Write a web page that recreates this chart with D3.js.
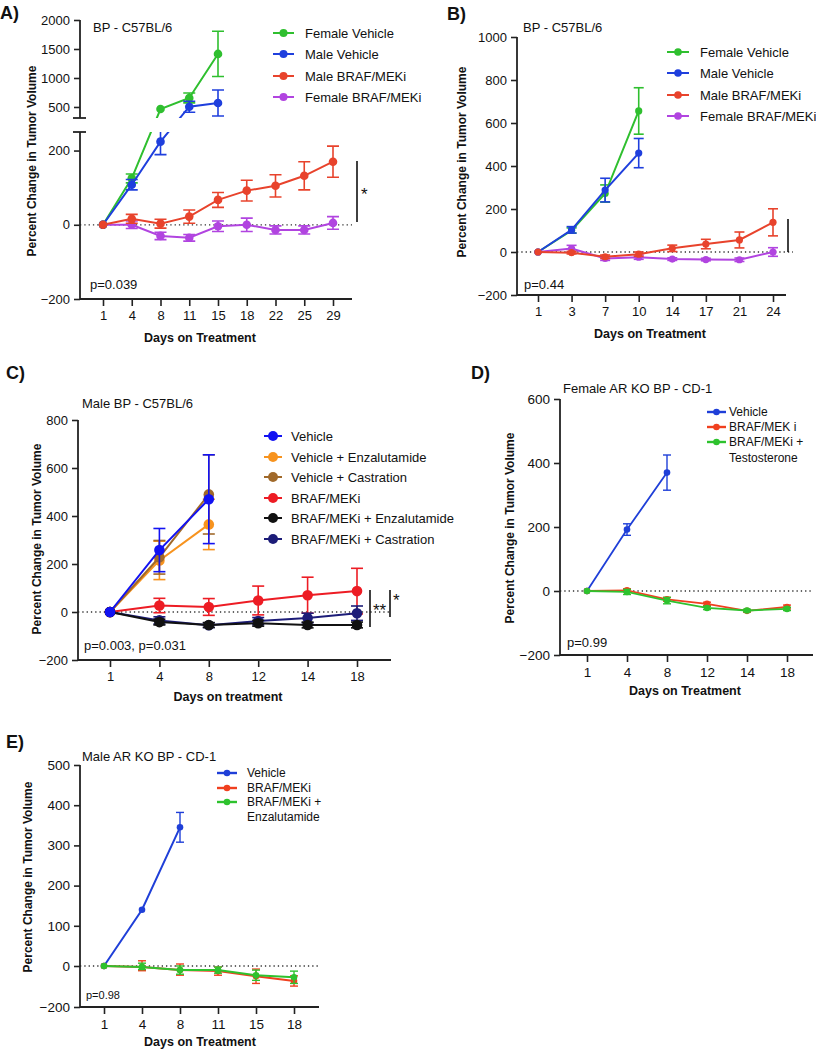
<!DOCTYPE html>
<html><head><meta charset="utf-8">
<script src="https://cdn.jsdelivr.net/npm/d3@7"></script>
<style>body{margin:0;background:#fff}svg{display:block}text{font-family:"Liberation Sans",Arial,sans-serif;fill:#111}</style>
</head><body><svg id="c" width="816" height="1050"></svg>
<script>
// ---------- Panel A ----------
const daysA = [1,4,8,11,15,18,22,25,29];
const namesA = ["Female Vehicle","Male Vehicle","Male BRAF/MEKi","Female BRAF/MEKi"];
const aFemaleVehicle = [0,125,465,655,1415];
const aFemaleVehicleErr = [0,12,0,85,390];
const aMaleVehicle = [0,108,224,505,569];
const aMaleVehicleErr = [0,14,35,95,225];
const aMaleBraf = [0,16,3,22,67,92,105,132,170];
const aMaleBrafErr = [0,12,12,18,20,28,30,38,42];
const aFemaleBraf = [0,0,-30,-35,-4,0,-14,-14,5];
const aFemaleBrafErr = [0,10,10,9,14,18,11,11,17];
const yTicksA = [-200,0,200,500,1000,1500,2000];

// ---------- Panel B ----------
const daysB = [1,3,7,10,14,17,21,24];
const namesB = ["Female Vehicle","Male Vehicle","Male BRAF/MEKi","Female BRAF/MEKi"];
const bFemaleVehicle = [0,100,272,656];
const bFemaleVehicleErr = [0,12,40,108];
const bMaleVehicle = [0,103,288,460];
const bMaleVehicleErr = [0,15,55,68];
const bMaleBraf = [0,-3,-22,-10,17,37,56,138];
const bMaleBrafErr = [0,6,8,10,15,22,37,63];
const bFemaleBraf = [0,16,-30,-24,-33,-35,-36,0];
const bFemaleBrafErr = [0,15,9,10,6,6,8,20];
const yTicksB = [-200,0,200,400,600,800,1000];

// ---------- Panel C ----------
const daysC = [1,4,8,12,14,18];
const namesC = ["Vehicle","Vehicle + Enzalutamide","Vehicle + Castration","BRAF/MEKi","BRAF/MEKi + Enzalutamide","BRAF/MEKi + Castration"];
const cVehicle = [0,258,470];
const cVehicleErr = [0,90,185];
const cVehEnza = [0,215,365];
const cVehEnzaErr = [0,80,105];
const cVehCast = [0,228,490];
const cVehCastErr = [0,70,165];
const cBraf = [0,27,21,48,70,87];
const cBrafErr = [0,30,35,60,75,95];
const cBrafEnza = [0,-42,-54,-47,-54,-54];
const cBrafEnzaErr = [0,12,10,12,12,12];
const cBrafCast = [0,-35,-55,-38,-25,-5];
const cBrafCastErr = [0,15,10,15,20,30];
const yTicksC = [-200,0,200,400,600,800];

// ---------- Panel D ----------
const daysD = [1,4,8,12,14,18];
const namesD = ["Vehicle","BRAF/MEK i","BRAF/MEKi +"];
const dVehicle = [0,192,370];
const dVehicleErr = [0,18,55];
const dBraf = [0,2,-26,-40,-62,-50];
const dBrafErr = [0,5,6,5,4,6];
const dBrafTesto = [0,-3,-30,-53,-61,-56];
const dBrafTestoErr = [0,8,10,5,4,5];
const yTicksD = [-200,0,200,400,600];

// ---------- Panel E ----------
const daysE = [1,4,8,11,15,18];
const namesE = ["Vehicle","BRAF/MEKi","BRAF/MEKi +"];
const eVehicle = [0,140,345];
const eVehicleErr = [0,0,37];
const eBraf = [0,-5,-20,-25,-50,-73];
const eBrafErr = [0,18,25,20,35,25];
const eBrafEnza = [0,-5,-20,-20,-45,-55];
const eBrafEnzaErr = [0,12,20,15,25,30];
const yTicksE = [-200,0,100,200,300,400,500];

const svg = d3.select("#c");
let clipId = 0;

function drawPanel(p) {
  const g = svg.append("g");
  const x = d3.scalePoint().domain(p.days).range([p.x0 + p.padL, p.x1 - p.padR]);
  const y = d3.scaleLinear().domain(p.yDom).range(p.yRng);
  const yBase = y(p.yDom[0]);

  // zero line
  g.append("line").attr("x1", p.x0).attr("x2", p.zeroEnd || p.x1)
    .attr("y1", y(0)).attr("y2", y(0))
    .attr("stroke", "#333").attr("stroke-width", 1.3).attr("stroke-dasharray", "1.3,3");

  // x axis
  const xa = g.append("g").attr("transform", `translate(0,${yBase})`)
    .call(d3.axisBottom(x).tickSize(7).tickPadding(5).tickSizeOuter(0));
  xa.select(".domain").remove();
  xa.attr("font-size", p.tickFs).attr("font-family", null);
  xa.selectAll("line").attr("stroke", "#222").attr("stroke-width", 1.6);
  g.append("line").attr("x1", p.x0).attr("x2", p.x1).attr("y1", yBase).attr("y2", yBase)
    .attr("stroke", "#222").attr("stroke-width", 1.8);

  // y axis
  const ya = g.append("g").attr("transform", `translate(${p.x0},0)`)
    .call(d3.axisLeft(y).tickValues(p.yTicks).tickFormat(d3.format("d")).tickSize(6).tickPadding(4).tickSizeOuter(0));
  ya.select(".domain").remove();
  ya.attr("font-size", p.tickFs).attr("font-family", null);
  ya.selectAll("line").attr("stroke", "#222").attr("stroke-width", 1.6);
  p.ySegs.forEach(s => {
    g.append("line").attr("x1", p.x0).attr("x2", p.x0).attr("y1", y(s[0])).attr("y2", y(s[1]))
      .attr("stroke", "#222").attr("stroke-width", 1.8);
  });
  (p.breakAt || []).forEach(v => {
    g.append("line").attr("x1", p.x0 - 7).attr("x2", p.x0 + 6).attr("y1", y(v)).attr("y2", y(v))
      .attr("stroke", "#222").attr("stroke-width", 1.8);
  });

  // data layer
  let layer = g.append("g");
  if (p.clips) {
    const id = "clip" + (clipId++);
    const cp = svg.append("clipPath").attr("id", id);
    p.clips.forEach(c => cp.append("rect").attr("x", c[0]).attr("y", c[1]).attr("width", c[2]).attr("height", c[3]));
    layer.attr("clip-path", `url(#${id})`);
  }
  p.series.forEach(s => {
    const pts = s.vals.map((v, i) => ({d: p.days[i], v, e: s.errs[i]}));
    layer.append("path").datum(pts)
      .attr("d", d3.line().x(d => x(d.d)).y(d => y(d.v)))
      .attr("fill", "none").attr("stroke", s.color).attr("stroke-width", p.lw);
    const eb = layer.append("g").attr("stroke", s.color).attr("stroke-width", p.ew);
    pts.filter(d => d.e > 0).forEach(d => {
      eb.append("line").attr("x1", x(d.d)).attr("x2", x(d.d)).attr("y1", y(d.v - d.e)).attr("y2", y(d.v + d.e));
      eb.append("line").attr("x1", x(d.d) - p.cap).attr("x2", x(d.d) + p.cap).attr("y1", y(d.v - d.e)).attr("y2", y(d.v - d.e));
      eb.append("line").attr("x1", x(d.d) - p.cap).attr("x2", x(d.d) + p.cap).attr("y1", y(d.v + d.e)).attr("y2", y(d.v + d.e));
    });
    layer.append("g").selectAll("circle").data(pts).join("circle")
      .attr("cx", d => x(d.d)).attr("cy", d => y(d.v)).attr("r", p.r).attr("fill", s.color);
  });

  // legend
  const L = p.legend;
  L.names.forEach((n, i) => {
    g.append("line").attr("x1", L.x1).attr("x2", L.x2).attr("y1", L.rows[i]).attr("y2", L.rows[i])
      .attr("stroke", L.colors[i]).attr("stroke-width", L.lw);
    g.append("circle").attr("cx", (L.x1 + L.x2) / 2).attr("cy", L.rows[i]).attr("r", L.r).attr("fill", L.colors[i]);
    g.append("text").attr("x", L.tx).attr("y", L.rows[i]).attr("dy", "0.36em").attr("font-size", L.fs).text(n);
  });
  (L.extra || []).forEach(e => {
    g.append("text").attr("x", L.tx).attr("y", e.y).attr("dy", "0.36em").attr("font-size", L.fs).text(e.t);
  });

  // texts
  g.append("text").attr("x", p.label[1]).attr("y", p.label[2]).attr("font-size", 18).attr("font-weight", "bold").text(p.label[0]);
  g.append("text").attr("x", p.title[1]).attr("y", p.title[2]).attr("font-size", 13).text(p.title[0]);
  g.append("text").attr("x", p.pval[1]).attr("y", p.pval[2]).attr("font-size", p.pval[3]).text(p.pval[0]);
  g.append("text").attr("transform", `translate(${p.ytitle[0]},${p.ytitle[1]}) rotate(-90)`)
    .attr("text-anchor", "middle").attr("font-size", 12).attr("font-weight", "bold").text("Percent Change in Tumor Volume");
  g.append("text").attr("x", p.xtitle[1]).attr("y", p.xtitle[2]).attr("text-anchor", "middle")
    .attr("font-size", 12.5).attr("font-weight", "bold").text(p.xtitle[0]);

  (p.sig || []).forEach(s => {
    g.append("line").attr("x1", s.x).attr("x2", s.x).attr("y1", s.y1).attr("y2", s.y2).attr("stroke", "#111").attr("stroke-width", 1.6);
    if (s.t) g.append("text").attr("x", s.tx).attr("y", s.ty).attr("font-size", 17).text(s.t);
  });
}

const colA = ["#2fbf2f", "#1f3fdd", "#e8432c", "#b144e0"];
drawPanel({
  days: daysA, x0: 80, x1: 352, padL: 23, padR: 19,
  yDom: [-200, 250, 310, 2000], yRng: [299, 132, 118, 20], yTicks: yTicksA,
  ySegs: [[-200, 250], [310, 2000]], breakAt: [250, 310],
  clips: [[82, 0, 300, 118], [82, 132, 300, 170]],
  tickFs: 13, lw: 2, ew: 1.6, r: 4.3, cap: 6,
  series: [
    {vals: aFemaleBraf, errs: aFemaleBrafErr, color: colA[3]},
    {vals: aFemaleVehicle, errs: aFemaleVehicleErr, color: colA[0]},
    {vals: aMaleVehicle, errs: aMaleVehicleErr, color: colA[1]},
    {vals: aMaleBraf, errs: aMaleBrafErr, color: colA[2]}
  ],
  legend: {x1: 273, x2: 294, tx: 305, rows: [33, 54, 76, 97], names: namesA, colors: colA, fs: 13, lw: 2, r: 4},
  label: ["A)", 0, 19], title: ["BP - C57BL/6", 93, 32], pval: ["p=0.039", 90, 289, 13],
  ytitle: [36, 161], xtitle: ["Days on Treatment", 200, 342],
  sig: [{x: 357, y1: 161, y2: 222, t: "*", tx: 361, ty: 200}]
});

drawPanel({
  days: daysB, x0: 517, x1: 786, padL: 21, padR: 13,
  yDom: [-200, 1000], yRng: [295, 37], yTicks: yTicksB,
  ySegs: [[-200, 1000]], zeroEnd: 793,
  tickFs: 13, lw: 2, ew: 1.6, r: 3.6, cap: 5,
  series: [
    {vals: bFemaleVehicle, errs: bFemaleVehicleErr, color: colA[0]},
    {vals: bMaleVehicle, errs: bMaleVehicleErr, color: colA[1]},
    {vals: bFemaleBraf, errs: bFemaleBrafErr, color: colA[3]},
    {vals: bMaleBraf, errs: bMaleBrafErr, color: colA[2]}
  ],
  legend: {x1: 667, x2: 689, tx: 700, rows: [52, 73, 95, 116], names: namesB, colors: colA, fs: 13, lw: 2, r: 3.8},
  label: ["B)", 447, 20], title: ["BP - C57BL/6", 523, 32], pval: ["p=0.44", 524, 289, 13],
  ytitle: [466, 162], xtitle: ["Days on Treatment", 650, 338],
  sig: [{x: 788, y1: 219, y2: 252}]
});

const colC = ["#1212f2", "#f7931e", "#a0692a", "#ed1c24", "#111111", "#1c1c78"];
drawPanel({
  days: daysC, x0: 78, x1: 391, padL: 32, padR: 34,
  yDom: [-200, 800], yRng: [660, 420], yTicks: yTicksC,
  ySegs: [[-200, 800]],
  tickFs: 13, lw: 2, ew: 1.6, r: 5.3, cap: 6,
  series: [
    {vals: cVehEnza, errs: cVehEnzaErr, color: colC[1]},
    {vals: cVehCast, errs: cVehCastErr, color: colC[2]},
    {vals: cBraf, errs: cBrafErr, color: colC[3]},
    {vals: cBrafCast, errs: cBrafCastErr, color: colC[5]},
    {vals: cBrafEnza, errs: cBrafEnzaErr, color: colC[4]},
    {vals: cVehicle, errs: cVehicleErr, color: colC[0]}
  ],
  legend: {x1: 264, x2: 282, tx: 291, rows: [436, 457, 477, 498, 518, 539], names: namesC, colors: colC, fs: 13, lw: 2, r: 5},
  label: ["C)", 6, 379], title: ["Male BP - C57BL/6", 82, 408], pval: ["p=0.003, p=0.031", 84, 650, 13],
  ytitle: [41, 539], xtitle: ["Days on treatment", 228, 701],
  sig: [{x: 370, y1: 590, y2: 627, t: "**", tx: 373, ty: 616}, {x: 390, y1: 590, y2: 617, t: "*", tx: 393, ty: 606}]
});

const colD = ["#1f3fd8", "#f0401f", "#2ec22e"];
drawPanel({
  days: daysD, x0: 560, x1: 813, padL: 27, padR: 26,
  yDom: [-200, 600], yRng: [655, 399], yTicks: yTicksD,
  ySegs: [[-200, 600]],
  tickFs: 13.5, lw: 1.8, ew: 1.4, r: 3.3, cap: 4,
  series: [
    {vals: dVehicle, errs: dVehicleErr, color: colD[0]},
    {vals: dBraf, errs: dBrafErr, color: colD[1]},
    {vals: dBrafTesto, errs: dBrafTestoErr, color: colD[2]}
  ],
  legend: {x1: 707, x2: 726, tx: 729, rows: [412, 427, 442], names: namesD, colors: colD, fs: 12, lw: 2.4, r: 3.3,
           extra: [{t: "Testosterone", y: 458}]},
  label: ["D)", 471, 379], title: ["Female AR KO BP - CD-1", 563, 393], pval: ["p=0.99", 567, 647, 13],
  ytitle: [514, 528], xtitle: ["Days on Treatment", 685, 695]
});

drawPanel({
  days: daysE, x0: 80, x1: 319, padL: 24, padR: 25,
  yDom: [-200, 0, 500], yRng: [1007, 966, 765], yTicks: yTicksE,
  ySegs: [[-200, 500]],
  tickFs: 13.5, lw: 2, ew: 1.4, r: 3.3, cap: 4,
  series: [
    {vals: eVehicle, errs: eVehicleErr, color: colD[0]},
    {vals: eBraf, errs: eBrafErr, color: colD[1]},
    {vals: eBrafEnza, errs: eBrafEnzaErr, color: colD[2]}
  ],
  legend: {x1: 217, x2: 237, tx: 247, rows: [773, 788, 802], names: namesE, colors: colD, fs: 12, lw: 2.4, r: 3.3,
           extra: [{t: "Enzalutamide", y: 817}]},
  label: ["E)", 6, 748], title: ["Male AR KO BP - CD-1", 82, 761], pval: ["p=0.98", 86, 999, 11],
  ytitle: [32, 877], xtitle: ["Days on Treatment", 200, 1046]
});
</script></body></html>
